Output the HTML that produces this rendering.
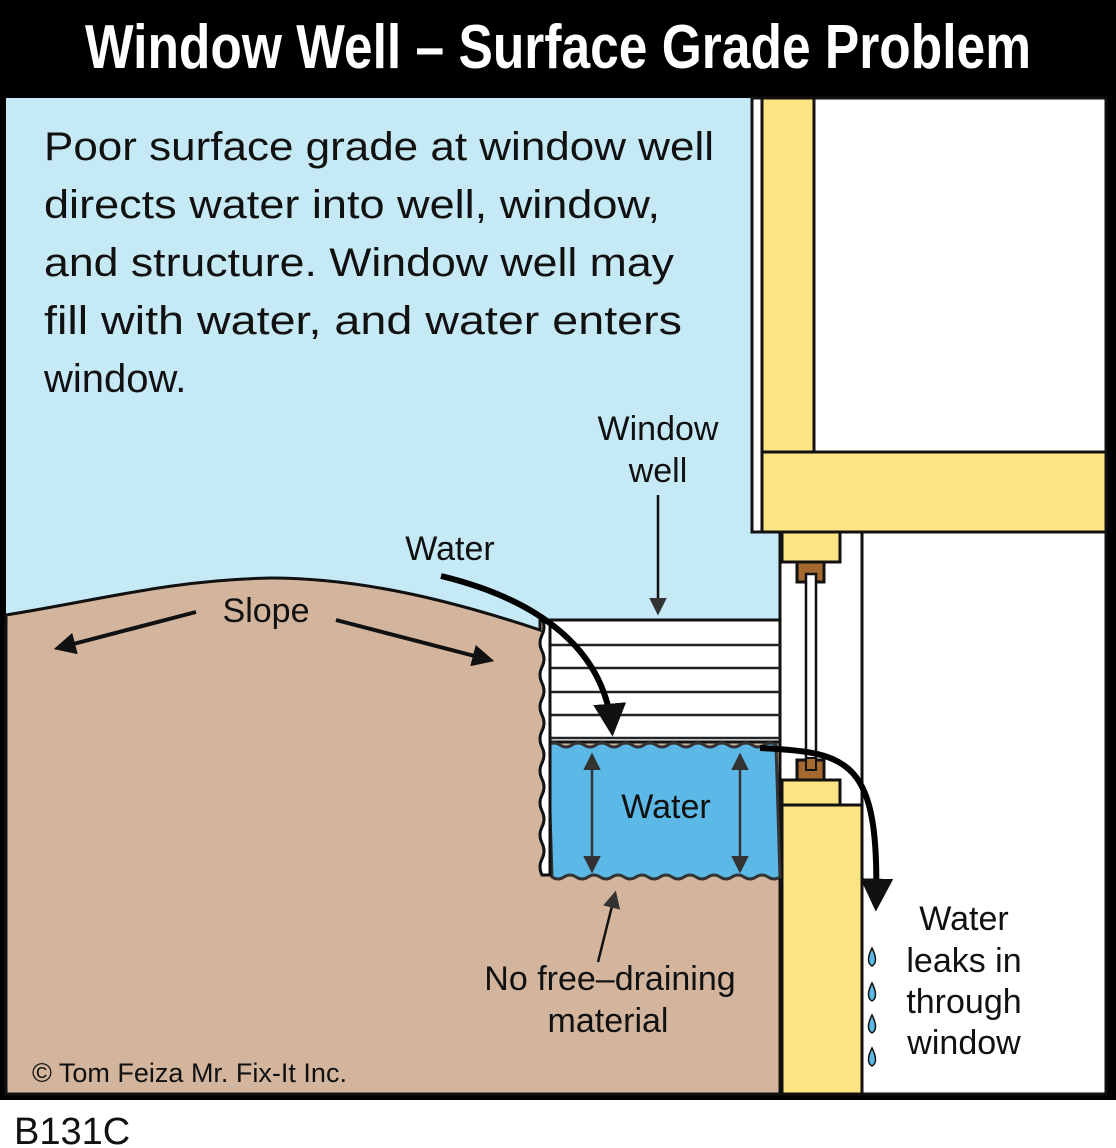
<!DOCTYPE html>
<html><head><meta charset="utf-8"><style>
body{margin:0;background:#fff;}
svg{display:block}
text{font-family:"Comic Sans MS","Liberation Sans",sans-serif;fill:#111}
</style></head><body>
<svg width="1116" height="1148" viewBox="0 0 1116 1148" xmlns="http://www.w3.org/2000/svg">
<defs>
<marker id="ah" viewBox="0 0 10 10" refX="8" refY="5" markerWidth="5.5" markerHeight="5.5" orient="auto-start-reverse"><path d="M0,0 L10,5 L0,10 z" fill="#111"/></marker>
<marker id="ahs" viewBox="0 0 10 10" refX="8" refY="5" markerWidth="7" markerHeight="7" orient="auto-start-reverse"><path d="M0,0 L10,5 L0,10 z" fill="#333"/></marker>
</defs>
<rect x="0" y="0" width="1116" height="1100" fill="#000"/>
<rect x="6" y="98" width="1100" height="996" fill="#c6e9f6"/>
<path d="M6,615 C100,600 170,580 270,578 C360,578 450,600 540,630 L540,620 L782,620 L782,1094 L6,1094 Z" fill="#d2b59c" stroke="#111" stroke-width="3"/>
<rect x="752" y="98" width="354" height="434" fill="#fff" stroke="#111" stroke-width="3"/>
<rect x="762" y="98" width="52" height="354" fill="#fee584" stroke="#111" stroke-width="3"/>
<rect x="762" y="452" width="344" height="80" fill="#fee584" stroke="#111" stroke-width="3"/>
<rect x="780" y="532" width="326" height="562" fill="#fff" stroke="#111" stroke-width="3"/>
<line x1="862" y1="532" x2="862" y2="1094" stroke="#111" stroke-width="3"/>
<rect x="782" y="532" width="58" height="30" fill="#fee584" stroke="#111" stroke-width="3"/>
<rect x="797" y="562" width="27" height="20" fill="#a5692f" stroke="#111" stroke-width="3"/>
<rect x="806" y="574" width="10" height="192" fill="#fff" stroke="#111" stroke-width="2.5"/>
<rect x="797" y="760" width="27" height="20" fill="#a5692f" stroke="#111" stroke-width="3"/>
<rect x="806" y="758" width="10" height="12" fill="#a5692f" stroke="#111" stroke-width="2"/>
<rect x="782" y="780" width="58" height="25" fill="#fee584" stroke="#111" stroke-width="3"/>
<rect x="782" y="805" width="80" height="289" fill="#fee584" stroke="#111" stroke-width="3"/>
<rect x="548" y="620" width="232" height="122" fill="#fff" stroke="#111" stroke-width="3"/>
<g stroke="#222" stroke-width="2.5">
<line x1="548" y1="645" x2="780" y2="645"/><line x1="548" y1="668" x2="780" y2="668"/>
<line x1="548" y1="692" x2="780" y2="692"/><line x1="548" y1="715" x2="780" y2="715"/>
<line x1="548" y1="738" x2="780" y2="738"/></g>
<path d="M548,745 q6,-4 12,0 t12,0 t12,0 t12,0 t12,0 t12,0 t12,0 t12,0 t12,0 t12,0 t12,0 t12,0 t12,0 t12,0 t12,0 t12,0 t12,0 t12,0 t12,0 L780,877 q-6,4 -12,0 t-12,0 t-12,0 t-12,0 t-12,0 t-12,0 t-12,0 t-12,0 t-12,0 t-12,0 t-12,0 t-12,0 t-12,0 t-12,0 t-12,0 t-12,0 t-12,0 t-12,0 t-12,0 Z" fill="#5cb9e7" stroke="#333" stroke-width="3"/>
<path d="M542,620 L550,620 L550,875 L542,875 q-4,-8 0,-16 t0,-16 t0,-16 t0,-16 t0,-16 t0,-16 t0,-16 t0,-16 t0,-16 t0,-16 t0,-16 t0,-16 t0,-16 t0,-16 t0,-16 t0,-16 Z" fill="#fff" stroke="#111" stroke-width="3"/>
<line x1="658" y1="495" x2="658" y2="612" stroke="#111" stroke-width="2.5" marker-end="url(#ahs)"/>
<line x1="592" y1="756" x2="592" y2="870" stroke="#333" stroke-width="2.5" marker-start="url(#ahs)" marker-end="url(#ahs)"/>
<line x1="740" y1="756" x2="740" y2="870" stroke="#333" stroke-width="2.5" marker-start="url(#ahs)" marker-end="url(#ahs)"/>
<line x1="598" y1="962" x2="615" y2="894" stroke="#111" stroke-width="2.5" marker-end="url(#ahs)"/>
<line x1="196" y1="612" x2="58" y2="648" stroke="#111" stroke-width="4" marker-end="url(#ah)"/>
<line x1="336" y1="620" x2="490" y2="660" stroke="#111" stroke-width="4" marker-end="url(#ah)"/>
<path d="M441,576 C540,600 605,650 612,730" fill="none" stroke="#000" stroke-width="6" marker-end="url(#ah)"/>
<path d="M760,748 C850,752 880,760 876,905" fill="none" stroke="#000" stroke-width="6" marker-end="url(#ah)"/>
<g fill="#5cb9e7" stroke="#111" stroke-width="1.5">
<path d="M872,948 q-7,14 0,18 q7,-4 0,-18z"/><path d="M872,983 q-7,14 0,18 q7,-4 0,-18z"/>
<path d="M872,1015 q-7,14 0,18 q7,-4 0,-18z"/><path d="M872,1048 q-7,14 0,18 q7,-4 0,-18z"/>
</g>
<text x="558" y="68" font-family="Liberation Sans" font-weight="bold" font-size="62" style="fill:#fff" text-anchor="middle" textLength="946" lengthAdjust="spacingAndGlyphs">Window Well – Surface Grade Problem</text>
<g font-size="40">
<text x="44" y="160" textLength="670" lengthAdjust="spacingAndGlyphs">Poor surface grade at window well</text>
<text x="44" y="218" textLength="616" lengthAdjust="spacingAndGlyphs">directs water into well, window,</text>
<text x="44" y="276" textLength="630" lengthAdjust="spacingAndGlyphs">and structure. Window well may</text>
<text x="44" y="334" textLength="638" lengthAdjust="spacingAndGlyphs">fill with water, and water enters</text>
<text x="44" y="392">window.</text>
</g>
<g font-size="34" text-anchor="middle">
<text x="658" y="440">Window</text><text x="658" y="482">well</text>
<text x="450" y="560">Water</text>
<text x="266" y="622">Slope</text>
<text x="666" y="818">Water</text>
<text x="610" y="990">No free–draining</text><text x="608" y="1032">material</text>
<text x="964" y="930">Water</text><text x="964" y="972">leaks in</text>
<text x="964" y="1013">through</text><text x="964" y="1054">window</text>
</g>
<text x="32" y="1082" font-size="27">© Tom Feiza Mr. Fix-It Inc.</text>
<text x="14" y="1144" font-size="38">B131C</text>
</svg>
</body></html>
